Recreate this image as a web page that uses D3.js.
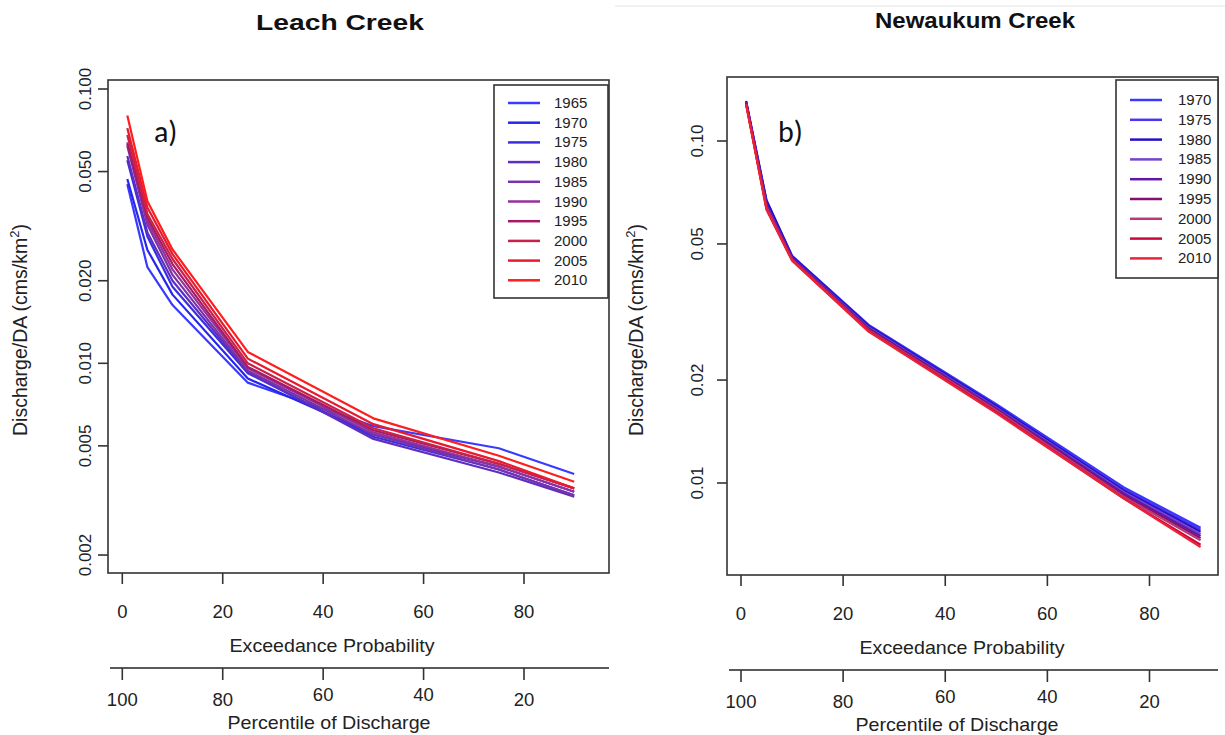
<!DOCTYPE html>
<html><head><meta charset="utf-8">
<script src="https://cdn.jsdelivr.net/npm/d3@7"></script>
<style>body{margin:0;background:#fff}svg{display:block;font-family:"Liberation Sans",Arial,sans-serif}</style>
</head><body>
<svg id="c" width="1225" height="735"></svg>
<script>
const exceedance = [1, 5, 10, 25, 50, 75, 90];

const leachYears = ["1965","1970","1975","1980","1985","1990","1995","2000","2005","2010"];
const leachColors = ["#3a3aff","#2626ee","#3a2ee0","#5e2dc2","#7833aa","#96309a","#a51a66","#c8224a","#e81a30","#ff1e1e"];
const leachValues = [
  [0.045, 0.0224, 0.0163, 0.0085, 0.0059, 0.0049, 0.00395],
  [0.047, 0.0259, 0.0178, 0.0088, 0.0055, 0.0042, 0.0034],
  [0.055, 0.0290, 0.0190, 0.0092, 0.0054, 0.0041, 0.0033],
  [0.057, 0.0300, 0.0200, 0.0093, 0.0053, 0.0040, 0.00326],
  [0.062, 0.0320, 0.0210, 0.0094, 0.0055, 0.0041, 0.0033],
  [0.064, 0.0330, 0.0220, 0.0096, 0.0056, 0.0042, 0.0034],
  [0.063, 0.0340, 0.0230, 0.0097, 0.0057, 0.0043, 0.0035],
  [0.068, 0.0350, 0.0240, 0.0100, 0.0058, 0.0043, 0.0035],
  [0.072, 0.0370, 0.0250, 0.0104, 0.0060, 0.0044, 0.0035],
  [0.080, 0.0390, 0.0260, 0.0110, 0.0063, 0.0046, 0.0037]
];
const leachTicks = [0.1, 0.05, 0.02, 0.01, 0.005, 0.002];
const leachTickLabels = ["0.100","0.050","0.020","0.010","0.005","0.002"];

const newaukumYears = ["1970","1975","1980","1985","1990","1995","2000","2005","2010"];
const newaukumColors = ["#3838ff","#4a36ee","#2410cc","#7444cc","#6216a6","#82106e","#b83878","#c8083a","#ee2236"];
const newaukumValues = [
  [0.130, 0.067, 0.0462, 0.0290, 0.0170, 0.0097, 0.0074],
  [0.130, 0.066, 0.0460, 0.0288, 0.0168, 0.0096, 0.0073],
  [0.131, 0.067, 0.0460, 0.0288, 0.0168, 0.0095, 0.0072],
  [0.129, 0.065, 0.0455, 0.0285, 0.0166, 0.0094, 0.0071],
  [0.130, 0.065, 0.0455, 0.0283, 0.0165, 0.0093, 0.0070],
  [0.129, 0.064, 0.0452, 0.0282, 0.0164, 0.0092, 0.0069],
  [0.128, 0.064, 0.0450, 0.0280, 0.0163, 0.0091, 0.0068],
  [0.129, 0.063, 0.0448, 0.0278, 0.0161, 0.0090, 0.0066],
  [0.128, 0.063, 0.0447, 0.0277, 0.0160, 0.0090, 0.0065]
];
const newaukumTicks = [0.1, 0.05, 0.02, 0.01];
const newaukumTickLabels = ["0.10","0.05","0.02","0.01"];

const xTicks = [0, 20, 40, 60, 80];
const pctTicks = [100, 80, 60, 40, 20];

const svg = d3.select("#c");
const AX = "#333";

// faint top rule over right panel
svg.append("line").attr("x1",615).attr("x2",1225).attr("y1",6).attr("y2",6).attr("stroke","#e4e4e4");

function panel(o) {
  const g = svg.append("g");
  const x = d3.scaleLinear().domain([0, 80]).range([o.x0, o.x80]);
  const y = d3.scaleLog().domain([o.yLo, o.yHi]).range([o.bottom, o.top]);
  const p = d3.scaleLinear().domain([100, 20]).range([o.x0, o.x80]);

  // title
  g.append("text").attr("x", o.titleX).attr("y", o.titleY).attr("text-anchor","middle")
    .attr("font-weight","bold").attr("font-size",22).attr("fill","#111")
    .attr("textLength", o.titleLen).attr("lengthAdjust","spacingAndGlyphs").text(o.title);

  // lines
  const line = d3.line().x((d,i)=>x(exceedance[i])).y(d=>y(d));
  o.values.forEach((vals,k)=>{
    g.append("path").attr("d", line(vals)).attr("fill","none")
      .attr("stroke", o.colors[k]).attr("stroke-width",2.2).attr("stroke-linejoin","round");
  });

  // box
  g.append("rect").attr("x",o.left).attr("y",o.top).attr("width",o.right-o.left).attr("height",o.bottom-o.top)
    .attr("fill","none").attr("stroke",AX).attr("stroke-width",1.6);

  // y axis ticks
  o.ticks.forEach((t,i)=>{
    g.append("line").attr("x1",o.left-10).attr("x2",o.left).attr("y1",y(t)).attr("y2",y(t)).attr("stroke",AX).attr("stroke-width",1.6);
    g.append("text").attr("transform",`translate(${o.left-o.tlOff},${y(t)}) rotate(-90)`)
      .attr("text-anchor","middle").attr("font-size",17).attr("fill","#222").text(o.tickLabels[i]);
  });
  // y title
  const yt = g.append("text").attr("transform",`translate(${o.ytX},${o.ytY}) rotate(-90)`)
    .attr("text-anchor","middle").attr("font-size",19.5).attr("fill","#222");
  yt.append("tspan").text("Discharge/DA (cms/km");
  yt.append("tspan").attr("font-size",13).attr("dy",-8).text("2");
  yt.append("tspan").attr("dy",8).text(")");

  // x axis ticks
  xTicks.forEach(t=>{
    g.append("line").attr("x1",x(t)).attr("x2",x(t)).attr("y1",o.bottom).attr("y2",o.bottom+11).attr("stroke",AX).attr("stroke-width",1.6);
    g.append("text").attr("x",x(t)).attr("y",o.bottom+45).attr("text-anchor","middle").attr("font-size",18.5).attr("fill","#222").text(t);
  });
  g.append("text").attr("x",o.exX).attr("y",o.bottom+79).attr("text-anchor","middle").attr("font-size",18.5).attr("fill","#222")
    .attr("textLength",205).attr("lengthAdjust","spacingAndGlyphs").text("Exceedance Probability");

  // percentile axis
  const ay = o.bottom + 95;
  g.append("line").attr("x1",o.left+2).attr("x2",o.right).attr("y1",ay).attr("y2",ay).attr("stroke","#222").attr("stroke-width",1.6);
  pctTicks.forEach(t=>{
    g.append("line").attr("x1",p(t)).attr("x2",p(t)).attr("y1",ay).attr("y2",ay+12).attr("stroke",AX).attr("stroke-width",1.6);
    g.append("text").attr("x",p(t)).attr("y",ay+(t===60||t===40?33:38)).attr("text-anchor","middle").attr("font-size",18.5).attr("fill","#222").text(t);
  });
  g.append("text").attr("x",o.pcX).attr("y",ay+61).attr("text-anchor","middle").attr("font-size",18.5).attr("fill","#222")
    .attr("textLength",203).attr("lengthAdjust","spacingAndGlyphs").text("Percentile of Discharge");

  // panel letter
  g.append("text").attr("x",o.letterX).attr("y",142).attr("font-size",30).attr("fill","#111")
    .attr("font-family","Carlito, Calibri, 'Liberation Sans', sans-serif").text(o.letter);

  // legend
  const L = o.legend;
  g.append("rect").attr("x",L.x).attr("y",L.y).attr("width",L.w).attr("height",L.h)
    .attr("fill","#fff").attr("stroke",AX).attr("stroke-width",1.6);
  o.years.forEach((yr,k)=>{
    const yy = L.y + L.first + k*L.step;
    g.append("line").attr("x1",L.x+L.l1).attr("x2",L.x+L.l2).attr("y1",yy).attr("y2",yy).attr("stroke",o.colors[k]).attr("stroke-width",2.5);
    g.append("text").attr("x",L.x+L.tx).attr("y",yy+5).attr("font-size",15).attr("fill","#222").text(yr);
  });
}

// Leach: 0.1 at y=89, 0.002 at y=555 -> box 80..573
panel({
  title:"Leach Creek", titleX:340, titleY:30, titleLen:168, letter:"a)", letterX:154,
  left:108, right:609, top:80, bottom:573,
  x0:122.3, x80:524,
  yLo:0.1*Math.pow(10,-(573-89)/274.3), yHi:0.1*Math.pow(10,(89-80)/274.3),
  ticks:leachTicks, tickLabels:leachTickLabels, tlOff:17, ytX:27, ytY:330,
  exX:332, pcX:329,
  values:leachValues, colors:leachColors, years:leachYears,
  legend:{x:494,y:85,w:114,h:213,first:18,step:19.7,l1:14,l2:46,tx:60}
});

// Newaukum: 0.1 at y=141, decade 342px -> box 77..575
panel({
  title:"Newaukum Creek", titleX:975, titleY:28, titleLen:200, letter:"b)", letterX:778,
  left:727, right:1218, top:77, bottom:575,
  x0:741, x80:1149.5,
  yLo:0.1*Math.pow(10,-(575-141)/342), yHi:0.1*Math.pow(10,(141-77)/342),
  ticks:newaukumTicks, tickLabels:newaukumTickLabels, tlOff:24, ytX:643, ytY:330,
  exX:962, pcX:957,
  values:newaukumValues, colors:newaukumColors, years:newaukumYears,
  legend:{x:1116,y:80,w:102,h:198,first:20,step:19.8,l1:14,l2:46,tx:62}
});
</script>
</body></html>
